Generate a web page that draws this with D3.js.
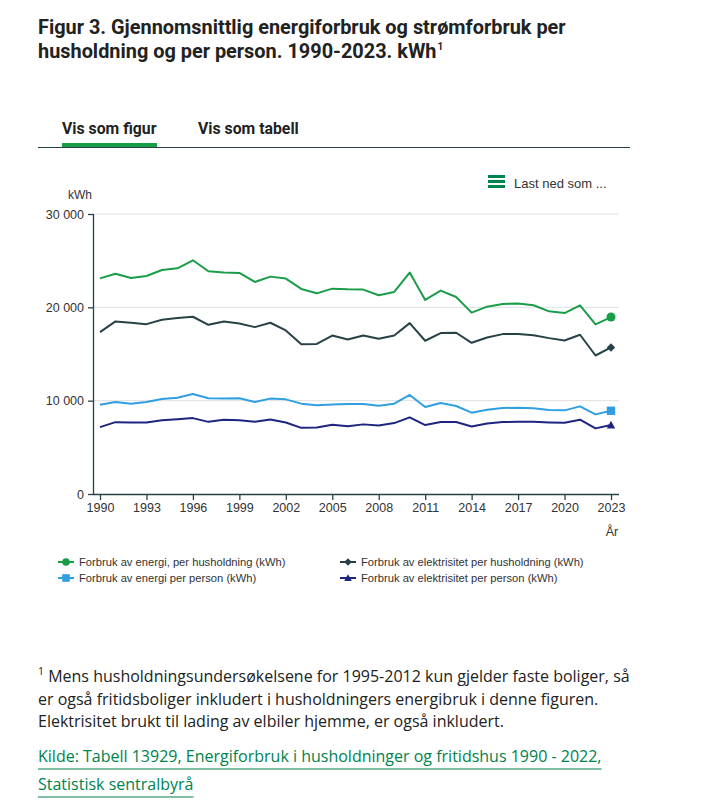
<!DOCTYPE html>
<html>
<head>
<meta charset="utf-8">
<script src="https://cdn.jsdelivr.net/npm/d3@7/dist/d3.min.js"></script>
<style>
  body { margin: 0; background: #fff; }
  #chart text { font-family: "Liberation Sans", Arial, sans-serif; }
  #chart text.title { font-family: Roboto, sans-serif; font-weight: 700; }
  #chart text.tab { font-family: Roboto, sans-serif; font-weight: 700; }
  #chart text.note { font-family: "Open Sans", sans-serif; }
</style>
</head>
<body>
<svg id="chart" width="701" height="807"></svg>
<script>
// years and values (kWh)
var years = d3.range(1990, 2024);
var energiHush = [23100, 23600, 23150, 23360, 24000, 24180, 25040, 23860, 23720, 23690, 22720, 23290, 23080, 21970, 21500, 22000, 21930, 21900, 21290, 21650, 23720, 20790, 21790, 21110, 19430, 20070, 20360, 20400, 20220, 19570, 19390, 20220, 18170, 18960];
var elHush = [17340, 18490, 18350, 18200, 18670, 18850, 18990, 18130, 18490, 18270, 17880, 18350, 17520, 16040, 16080, 16980, 16550, 16990, 16630, 16990, 18310, 16420, 17240, 17280, 16200, 16770, 17130, 17130, 17020, 16700, 16450, 17060, 14840, 15700];
var energiPers = [9570, 9860, 9680, 9860, 10180, 10320, 10720, 10250, 10220, 10250, 9860, 10220, 10140, 9680, 9500, 9600, 9640, 9640, 9460, 9680, 10610, 9320, 9750, 9430, 8710, 9030, 9210, 9250, 9180, 9000, 8960, 9390, 8530, 8920];
var elPers = [7160, 7700, 7660, 7660, 7910, 8020, 8130, 7730, 7950, 7910, 7730, 7990, 7660, 7090, 7120, 7410, 7270, 7460, 7350, 7600, 8210, 7390, 7710, 7710, 7240, 7560, 7710, 7740, 7740, 7670, 7630, 7960, 7030, 7390];

var seriesNames = ["Forbruk av energi, per husholdning (kWh)", "Forbruk av elektrisitet per husholdning (kWh)", "Forbruk av energi per person (kWh)", "Forbruk av elektrisitet per person (kWh)"];
var yTicks = [0, 10000, 20000, 30000];
var xTicks = [1990, 1993, 1996, 1999, 2002, 2005, 2008, 2011, 2014, 2017, 2020, 2023];

var colors = ["#1a9d49", "#274247", "#2f9fe2", "#1c2580"];
var allSeries = [energiHush, elHush, energiPers, elPers];

// marker shapes: circle, diamond, square, triangle
function marker(k, r) {
  if (k == 0) return d3.symbol().type(d3.symbolCircle).size(Math.PI * r * r)();
  if (k == 1) return "M0," + (-r) + "L" + r + ",0L0," + r + "L" + (-r) + ",0Z";
  if (k == 2) return "M" + (-r) + "," + (-r) + "H" + r + "V" + r + "H" + (-r) + "Z";
  return "M0," + (-r) + "L" + r + "," + r * 0.8 + "H" + (-r) + "Z";
}

var svg = d3.select("#chart");

// title
svg.append("text").attr("class", "title").attr("x", 38).attr("y", 34).attr("font-size", 19.9).attr("fill", "#222").text("Figur 3. Gjennomsnittlig energiforbruk og strømforbruk per");
var t2 = svg.append("text").attr("class", "title").attr("x", 38).attr("y", 58).attr("font-size", 19.9).attr("fill", "#222").text("husholdning og per person. 1990-2023. kWh");
t2.append("tspan").attr("font-size", 10).attr("dy", -8).attr("dx", 1).text("1");

// tabs
svg.append("text").attr("class", "tab").attr("x", 62).attr("y", 134).attr("font-size", 15.8).attr("fill", "#222").text("Vis som figur");
svg.append("text").attr("class", "tab").attr("x", 198).attr("y", 134).attr("font-size", 15.8).attr("fill", "#222").text("Vis som tabell");
svg.append("rect").attr("x", 62).attr("y", 143).attr("width", 95).attr("height", 4).attr("fill", "#1a9d49");
svg.append("line").attr("x1", 38).attr("x2", 630).attr("y1", 147.5).attr("y2", 147.5).attr("stroke", "#274247").attr("stroke-width", 1.2);

// download menu
[0, 5, 10].forEach(function(o) {
  svg.append("rect").attr("x", 488).attr("y", 175 + o).attr("width", 17).attr("height", 3).attr("fill", "#00824d");
});
svg.append("text").attr("x", 514).attr("y", 188).attr("font-size", 13).attr("fill", "#333").text("Last ned som ...");

// scales
var x = d3.scaleLinear().domain([1990, 2023]).range([100, 611]);
var y = d3.scaleLinear().domain([0, 30000]).range([494, 214]);

svg.append("text").attr("x", 68).attr("y", 199).attr("font-size", 12).attr("fill", "#333").text("kWh");

// gridlines
svg.append("g").selectAll("line").data(yTicks.slice(1)).enter().append("line")
  .attr("x1", 93).attr("x2", 619).attr("y1", function(d) { return y(d); }).attr("y2", function(d) { return y(d); })
  .attr("stroke", "#e0e0e0").attr("stroke-width", 1);

// y axis
var fmt = function(d) { return d3.format(",")(d).replace(/,/g, " "); };
var yAxis = svg.append("g").attr("transform", "translate(93,0)")
  .call(d3.axisLeft(y).tickValues(yTicks).tickFormat(fmt).tickSize(5).tickSizeOuter(0));
yAxis.select(".domain").attr("stroke", "#274247").attr("stroke-width", 1.3).attr("d", "M0.5,494V214");
yAxis.selectAll(".tick line").attr("stroke", "#274247").attr("stroke-width", 1.3);
yAxis.selectAll(".tick text").attr("font-size", 12.5).attr("fill", "#333").attr("x", -9);

// x axis
var xAxis = svg.append("g").attr("transform", "translate(0,494)")
  .call(d3.axisBottom(x).tickValues(xTicks).tickFormat(d3.format("d")).tickSize(6).tickSizeOuter(0));
xAxis.select(".domain").attr("stroke", "#274247").attr("stroke-width", 1.3).attr("d", "M93,0.5H619");
xAxis.selectAll(".tick line").attr("stroke", "#274247").attr("stroke-width", 1.3);
xAxis.selectAll(".tick text").attr("font-size", 12.5).attr("fill", "#333").attr("y", 9);
svg.append("text").attr("x", 612).attr("y", 536).attr("text-anchor", "middle").attr("font-size", 12.5).attr("fill", "#333").text("År");

// lines
var line = d3.line().x(function(d, i) { return x(years[i]); }).y(function(d) { return y(d); });
allSeries.forEach(function(s, k) {
  svg.append("path").datum(s).attr("d", line).attr("fill", "none")
    .attr("stroke", colors[k]).attr("stroke-width", 2).attr("stroke-linejoin", "round");
  var last = s.length - 1;
  svg.append("path").attr("d", marker(k, k == 0 ? 4.5 : 4.2))
    .attr("transform", "translate(" + x(years[last]) + "," + y(s[last]) + ")")
    .attr("fill", colors[k]);
});

// legend
var legPos = [[58, 562], [340, 562], [58, 578], [340, 578]];
seriesNames.forEach(function(name, k) {
  var g = svg.append("g").attr("transform", "translate(" + legPos[k][0] + "," + legPos[k][1] + ")");
  g.append("line").attr("x1", 0).attr("x2", 16).attr("y1", 0).attr("y2", 0).attr("stroke", colors[k]).attr("stroke-width", 2);
  g.append("path").attr("d", marker(k, 3.8)).attr("transform", "translate(8,0)").attr("fill", colors[k]);
  g.append("text").attr("x", 21).attr("y", 4).attr("font-size", 11.2).attr("fill", "#333").text(name);
});

// footnote
var notes = ["Mens husholdningsundersøkelsene for 1995-2012 kun gjelder faste boliger, så", "er også fritidsboliger inkludert i husholdningers energibruk i denne figuren.", "Elektrisitet brukt til lading av elbiler hjemme, er også inkludert."];
notes.forEach(function(n, i) {
  var t = svg.append("text").attr("class", "note").attr("x", 38).attr("y", 682 + i * 22.5).attr("font-size", 16).attr("fill", "#222");
  if (i == 0) {
    t.append("tspan").attr("font-size", 10.5).attr("dy", -7).text("1");
    t.append("tspan").attr("dy", 7).text(" " + n);
  } else t.text(n);
});

// source link
var src = ["Kilde: Tabell 13929, Energiforbruk i husholdninger og fritidshus 1990 - 2022,", "Statistisk sentralbyrå"];
src.forEach(function(s, i) {
  var t = svg.append("text").attr("class", "note").attr("x", 38).attr("y", 762 + i * 28).attr("font-size", 16).attr("fill", "#00824d").text(s);
  var w = t.node().getComputedTextLength();
  svg.append("line").attr("x1", 38).attr("x2", 38 + w).attr("y1", 769 + i * 28).attr("y2", 769 + i * 28).attr("stroke", "#00824d").attr("stroke-width", 1.2);
});
</script>
</body>
</html>
